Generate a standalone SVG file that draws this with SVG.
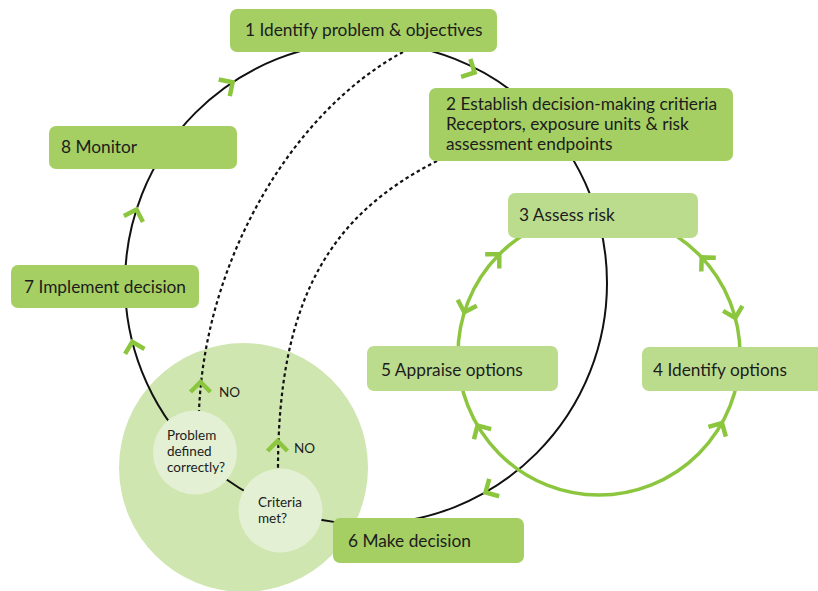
<svg xmlns="http://www.w3.org/2000/svg" width="818" height="591" viewBox="0 0 818 591">
<defs>
<style>
.dark{fill:#a5cf63;}
.light{fill:#bcdc8d;}
.t{font-family:Lato,"Open Sans","Liberation Sans",sans-serif;font-size:17.3px;fill:#1c1c1c;}
.s{font-family:Lato,"Open Sans","Liberation Sans",sans-serif;font-size:13.5px;fill:#1c1c1c;}
.blk{fill:none;stroke:#111;stroke-width:2;}
.grn{fill:none;stroke:#8cc63f;stroke-width:3.5;}
.dot{fill:none;stroke:#111;stroke-width:2.2;stroke-dasharray:3.5 3;}
.chev{fill:none;stroke:#8cc63f;stroke-width:4.5;stroke-linecap:butt;stroke-linejoin:miter;}
</style>
<path id="cv" class="chev" d="M-10,-10 L0,0 L-10,10"/>
</defs>
<rect width="818" height="591" fill="#fff"/>
<g id="decision-zone">
<circle cx="243.5" cy="467.5" r="124.5" fill="#d0e6b1"/>
</g>
<g id="connectors">
<circle class="blk" cx="366" cy="283" r="241"/>
<circle class="grn" cx="599" cy="354" r="141"/>
<path class="dot" d="M403,52 C292,112 205,260 199,411"/>
<path class="dot" d="M437,161 C330,215 278,300 278,469"/>
<use href="#cv" transform="translate(232.6,82.3) rotate(-33.6)"/>
<use href="#cv" transform="translate(474.6,72.5) rotate(27.3)"/>
<use href="#cv" transform="translate(136.5,209.5) rotate(-72.2)"/>
<use href="#cv" transform="translate(132.3,341.8) rotate(-104.2)"/>
<use href="#cv" transform="translate(485.5,492.5) rotate(150.3)"/>
<use href="#cv" transform="translate(499.3,254.3) rotate(-45)"/>
<use href="#cv" transform="translate(464.3,312.3) rotate(107.2)"/>
<use href="#cv" transform="translate(701.7,257.4) rotate(-133.3)"/>
<use href="#cv" transform="translate(735.3,318) rotate(75.2)"/>
<use href="#cv" transform="translate(477.5,425.6) rotate(239.5)"/>
<use href="#cv" transform="translate(722,423) rotate(-60.7)"/>
<use href="#cv" transform="translate(200.5,382) rotate(-90)"/>
<use href="#cv" transform="translate(277.5,441) rotate(-90)"/>
</g>
<g id="n1"><rect class="dark" x="230" y="9" width="267" height="43" rx="7"/><text class="t" x="245" y="36">1 Identify problem &amp; objectives</text></g>
<g id="n2"><rect class="dark" x="429" y="88" width="304" height="73" rx="7"/><text class="t" x="446" y="110">2 Establish decision-making critieria</text><text class="t" x="446" y="130">Receptors, exposure units &amp; risk</text><text class="t" x="446" y="150">assessment endpoints</text></g>
<g id="n3"><rect class="light" x="508" y="193" width="190" height="45" rx="7"/><text class="t" x="519" y="221">3 Assess risk</text></g>
<g id="n4"><rect class="light" x="642" y="347" width="182" height="44" rx="7"/><text class="t" x="653" y="376">4 Identify options</text></g>
<g id="n5"><rect class="light" x="367" y="346" width="191" height="45" rx="7"/><text class="t" x="381" y="376">5 Appraise options</text></g>
<g id="n6"><rect class="dark" x="333" y="518" width="191" height="45" rx="7"/><text class="t" x="348" y="547">6 Make decision</text></g>
<g id="n7"><rect class="dark" x="11" y="265" width="188" height="43" rx="7"/><text class="t" x="24" y="293">7 Implement decision</text></g>
<g id="n8"><rect class="dark" x="49" y="126" width="188" height="43" rx="7"/><text class="t" x="61" y="153">8 Monitor</text></g>
<g id="q1"><circle cx="195" cy="452.5" r="42" fill="#e3f0d4"/><text class="s" x="167" y="440">Problem</text><text class="s" x="167" y="456">defined</text><text class="s" x="167" y="472">correctly?</text></g>
<g id="q2"><circle cx="280.5" cy="510.5" r="42" fill="#e3f0d4"/><text class="s" x="258" y="507">Criteria</text><text class="s" x="258" y="523">met?</text></g>
<g id="labels"><text class="s" x="219" y="397">NO</text><text class="s" x="294" y="453">NO</text></g>
</svg>
